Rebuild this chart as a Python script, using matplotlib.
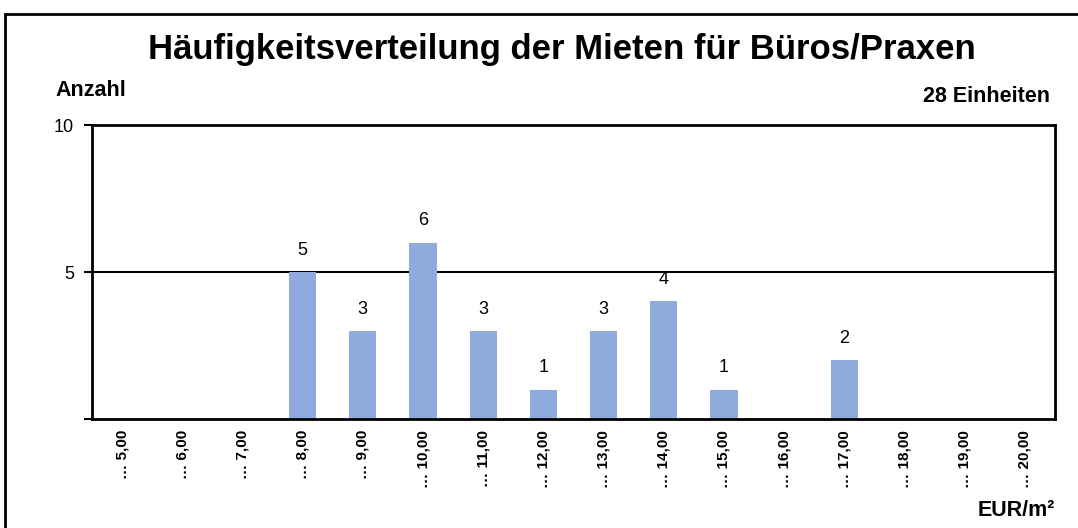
import numpy as np
import matplotlib.pyplot as plt
from matplotlib.patches import Rectangle

plt.rcParams['font.family'] = ['Liberation Sans', 'DejaVu Sans']

# Mietklassen (bis ... EUR/m²) und Anzahl der Einheiten
klassen = ['5,00', '6,00', '7,00', '8,00', '9,00', '10,00', '11,00', '12,00',
           '13,00', '14,00', '15,00', '16,00', '17,00', '18,00', '19,00', '20,00']
anzahl = [0, 0, 0, 5, 3, 6, 3, 1, 3, 4, 1, 0, 2, 0, 0, 0]
y_ticks = [0, 5, 10]
y_labels = ['', '5', '10']

fig = plt.figure(figsize=(10.78, 5.28), dpi=100)
ax = fig.add_axes([92 / 1078, 1 - 419 / 528, (1055 - 92) / 1078, (419 - 125) / 528])

x = np.arange(len(klassen))
bars = ax.bar(x, anzahl, width=0.45, color='#8FAADC', zorder=2)
for xi, v in zip(x, anzahl):
    if v > 0:
        ax.text(xi, v + 0.45, str(v), ha='center', va='bottom', fontsize=13)

ax.set_xlim(-0.5, len(klassen) - 0.5)
ax.set_ylim(0, 10)
ax.set_yticks(y_ticks)
ax.set_yticklabels(y_labels, fontsize=13)
ax.axhline(5, color='black', lw=1.5, zorder=1)
ax.set_xticks(x)
ax.set_xticklabels(['… ' + k for k in klassen], rotation=90, fontsize=11,
                   fontweight='bold', va='top')
ax.tick_params(axis='x', length=0, pad=8)
ax.tick_params(axis='y', length=6, width=1.5, pad=7, direction='out')
for s in ax.spines.values():
    s.set_linewidth(2)

# Texte
fig.text(562 / 1078, 1 - 50 / 528, 'Häufigkeitsverteilung der Mieten für Büros/Praxen',
         ha='center', va='center', fontsize=25, fontweight='bold')
fig.text(55 / 1078, 1 - 90 / 528, 'Anzahl', ha='left', va='center',
         fontsize=15.5, fontweight='bold')
fig.text(1050 / 1078, 1 - 97 / 528, '28 Einheiten', ha='right', va='center',
         fontsize=15.5, fontweight='bold')
fig.text(1055 / 1078, 1 - 510 / 528, 'EUR/m²', ha='right', va='center',
         fontsize=15.5, fontweight='bold')

# Rahmen um das Diagramm
fig.patches.append(Rectangle((5 / 1078, -0.1), 1.2, 1 - 14 / 528 + 0.1,
                             transform=fig.transFigure, fill=False,
                             edgecolor='black', lw=2))

fig.savefig('out.png', dpi=100)
